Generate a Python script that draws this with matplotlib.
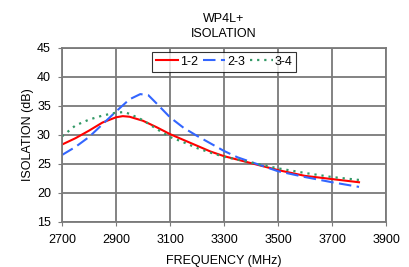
import numpy as np
import matplotlib.pyplot as plt

plt.rcParams['font.family'] = ['Liberation Sans', 'DejaVu Sans']

freq_12 = [2700, 2750, 2800, 2850, 2900, 2925, 2950, 3000, 3050, 3100, 3150, 3200,
           3250, 3300, 3350, 3400, 3500, 3600, 3700, 3800]
iso_12 = [28.3, 29.4, 30.7, 32.1, 33.0, 33.2, 33.1, 32.4, 31.3, 30.1, 29.1, 28.1,
          27.1, 26.3, 25.7, 25.1, 23.9, 22.9, 22.35, 21.8]
freq_23 = [2700, 2750, 2800, 2850, 2900, 2950, 2990, 3020, 3050, 3100, 3150, 3200,
           3250, 3300, 3350, 3400, 3500, 3600, 3700, 3800]
iso_23 = [26.5, 27.9, 29.6, 31.8, 34.0, 36.1, 37.0, 36.8, 35.4, 33.0, 31.2, 29.8,
          28.5, 27.2, 26.1, 25.3, 23.7, 22.7, 21.8, 21.0]
freq_34 = [2700, 2750, 2800, 2850, 2900, 2930, 2950, 3000, 3050, 3100, 3150, 3200,
           3250, 3300, 3400, 3500, 3600, 3700, 3800]
iso_34 = [29.7, 31.6, 32.6, 33.3, 33.8, 33.9, 33.6, 32.5, 31.0, 29.6, 28.7, 27.7,
          26.9, 26.2, 25.2, 24.2, 23.4, 22.7, 22.2]

xticks = [2700, 2900, 3100, 3300, 3500, 3700, 3900]
yticks = [15, 20, 25, 30, 35, 40, 45]

fig = plt.figure(figsize=(4.09, 2.67), dpi=100)
ax = fig.add_axes([0.1516, 0.1697, 0.7922, 0.6516])

ax.plot(freq_12, iso_12, color='#ff0000', lw=1.5, label='1-2')
ax.plot(freq_23, iso_23, color='#3366ff', lw=1.5, dashes=(6, 2.6), label='2-3')
ax.plot(freq_34, iso_34, color='#339966', lw=1.6, dashes=(1, 2.2), label='3-4')

ax.set_xlim(2700, 3900)
ax.set_ylim(15, 45)
ax.set_xticks(xticks)
ax.set_yticks(yticks)
ax.grid(color='#7a7a7a', lw=1.3)
for s in ax.spines.values():
    s.set_color('#7a7a7a')
    s.set_linewidth(1.3)
ax.tick_params(labelsize=9, length=3, color='#7a7a7a', pad=6)
ax.tick_params(axis='y', pad=5)
ax.set_xlabel('FREQUENCY (MHz)', fontsize=9, labelpad=6)
ax.set_ylabel('ISOLATION (dB)', fontsize=9, labelpad=2)
ax.set_title('WP4L+\nISOLATION', fontsize=9, pad=8, linespacing=1.25)

leg = ax.legend(loc='upper center', ncol=3, fontsize=9, frameon=True, fancybox=False,
                handlelength=1.8, handletextpad=0.15, columnspacing=0.4,
                borderpad=0.3, borderaxespad=0.35, bbox_to_anchor=(0.5, 1.0))
leg.get_frame().set_edgecolor('black')
leg.get_frame().set_linewidth(0.8)

fig.savefig('out.png', dpi=100)
